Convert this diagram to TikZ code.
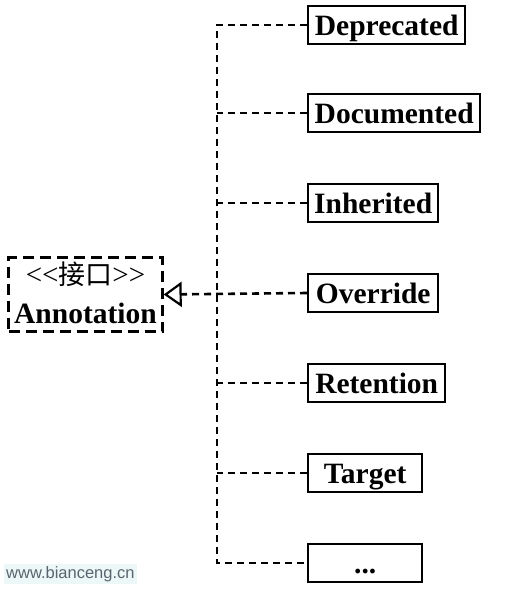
\documentclass[tikz,border=0pt]{standalone}
\usepackage{fontspec}
\setmainfont{Liberation Serif}
\newfontfamily\cjk{Noto Sans CJK SC}
\newfontfamily\wm{Liberation Sans}
\usetikzlibrary{arrows.meta}
\begin{document}
\begin{tikzpicture}[x=1pt,y=-1pt,
  item/.style={draw,line width=2.4pt,minimum height=38pt,inner sep=0pt,anchor=west,
    text height=20pt,text depth=0pt,
    font=\fontsize{29.5}{32}\selectfont\bfseries},
  conn/.style={line width=2.6pt,dash pattern=on 7pt off 5pt},
  iface/.style={draw,line width=2.4pt,dash pattern=on 11pt off 6pt,minimum width=154pt,minimum height=74pt,inner sep=0pt,align=center}]
\useasboundingbox (0,0) rectangle (505,590);
\node[item,minimum width=157pt] (dep) at (307,25) {Deprecated};
\node[item,minimum width=172pt] (doc) at (307,113) {Documented};
\node[item,minimum width=130pt] (inh) at (307,203) {Inherited};
\node[item,minimum width=130pt] (ovr) at (307,293) {Override};
\node[item,minimum width=137pt] (ret) at (307,383) {Retention};
\node[item,minimum width=114pt] (tgt) at (307,473) {Target};
\node[item,minimum width=114pt] (etc) at (307,563) {...};
\node[iface] (ann) at (85.5,294.5) {};
\node[font=\fontsize{29}{30}\selectfont] (st) at (85.5,274) {{<}{<}{\cjk\fontsize{27}{28}\selectfont 接口}{>}{>}};
\node[font=\fontsize{29.5}{32}\selectfont\bfseries] (an) at (85.5,313) {Annotation};
\coordinate (ttop) at (217,25);
\coordinate (tbot) at (217,563);
\draw[conn] (dep.west) -- (ttop) -- (tbot) -- (etc.west);
\foreach \n in {doc,inh,ret,tgt}
  \draw[conn] (\n.west) -- (\n.west -| ttop);
\draw[conn,-{Triangle[open,length=18pt,width=25pt,line width=2.2pt]}] (ovr.west) -- (ann.east);
\node[fill={rgb,255:red,236;green,248;blue,248},text={rgb,255:red,90;green,100;blue,110},
  font=\wm\fontsize{16.5}{18}\selectfont,inner sep=2pt,anchor=west] (wmk) at (4,574) {www.bianceng.cn};
\end{tikzpicture}
\end{document}
